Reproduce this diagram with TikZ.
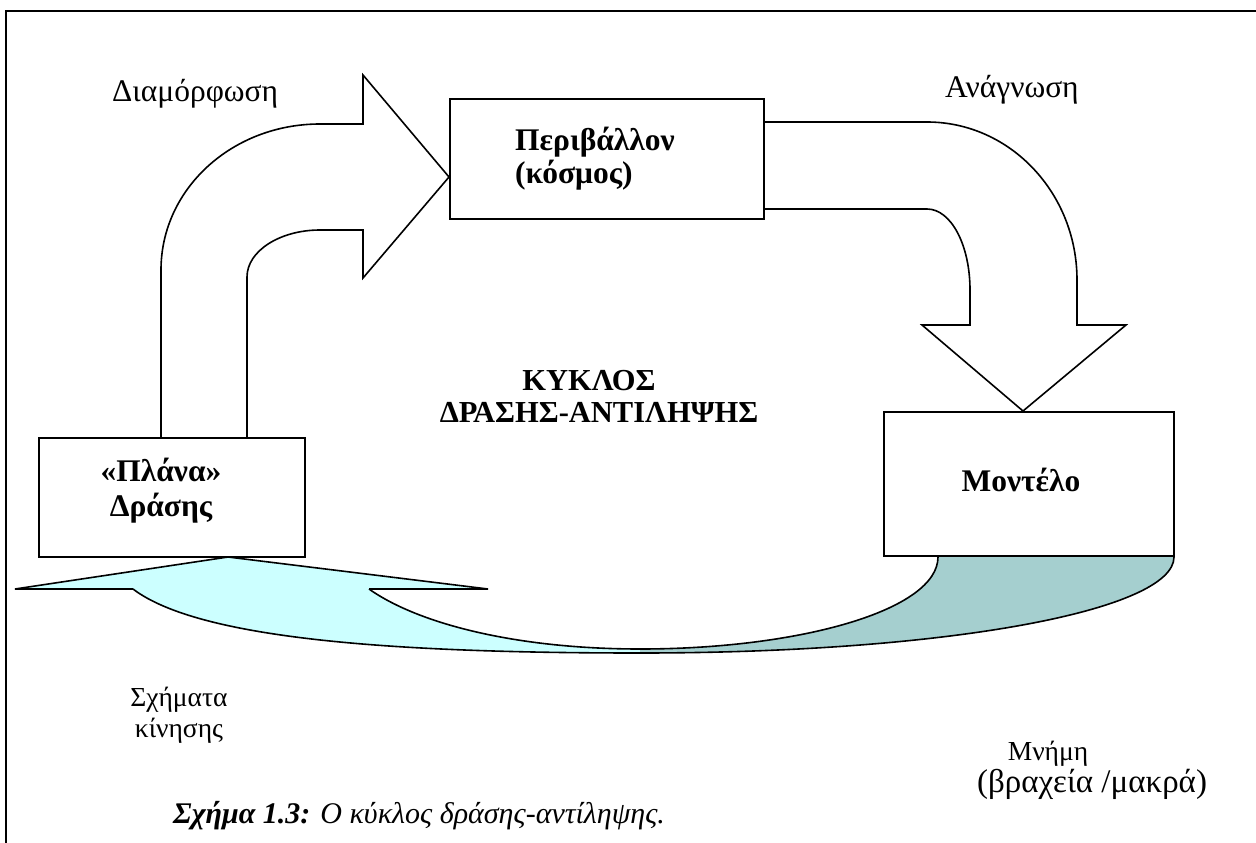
\documentclass[tikz,border=0pt]{standalone}
\usepackage{fontspec}
\setmainfont{Liberation Serif}
\definecolor{lightcyan}{HTML}{CCFFFF}
\definecolor{darkcyan}{HTML}{A5CFCF}
\begin{document}
\begin{tikzpicture}[x=1pt,y=-1pt,line join=miter,
  lbl/.style={font=\fontsize{31.5}{36}\selectfont, inner sep=0pt},
  slbl/.style={font=\fontsize{27.5}{32}\selectfont, inner sep=0pt},
  blbl/.style={font=\bfseries\fontsize{31.5}{36}\selectfont, inner sep=0pt},
  box/.style={draw, line width=1.6pt, fill=white, inner sep=0pt},
  outl/.style={line width=1.6pt}]
\useasboundingbox (0,0) rectangle (1256,843);
% frame
\draw[line width=2pt] (6,843) -- (6,11) -- (1256,11);

% top-left block arrow (Diamorfosi)
\draw[outl] (161,437) -- (161,270) .. controls (161,189) and (232,124) .. (320,124)
  -- (363,124) -- (363,75) -- (449,177) -- (363,278) -- (363,230) -- (320,230)
  .. controls (280,230) and (247,251) .. (247,277) -- (247,437);

% top-right block arrow (Anagnosi)
\draw[outl] (764,122) -- (927,122) .. controls (1010,122) and (1077,193) .. (1077,280)
  -- (1077,325) -- (1126,325) -- (1023,411) -- (922,325) -- (970,325) -- (970,290)
  .. controls (970,245) and (951,209) .. (927,209) -- (764,209);

% bottom curved arrow
\fill[lightcyan] (228,557) -- (488,589) -- (369,589)
  .. controls (420,625) and (520,649) .. (640,649) -- (640,653)
  .. controls (400,653) and (200,640) .. (133,589) -- (15,589) -- cycle;
\fill[darkcyan] (640,649) .. controls (800,649) and (938,610) .. (938,557)
  -- (1174,557) .. controls (1174,610) and (950,653) .. (640,653) -- cycle;
\draw[outl] (133,589) -- (15,589) -- (228,557) -- (488,589) -- (369,589);
\draw[outl] (369,589) .. controls (420,625) and (520,649) .. (640,649)
  .. controls (800,649) and (938,610) .. (938,557);
\draw[outl] (133,589) .. controls (200,640) and (400,653) .. (640,653)
  .. controls (950,653) and (1174,610) .. (1174,557);

% boxes
\node[box, minimum width=314pt, minimum height=120pt] (env) at (607,159) {};
\node[box, minimum width=266pt, minimum height=119pt] (plan) at (172,497.5) {};
\node[box, minimum width=290pt, minimum height=144pt] (model) at (1029,484) {};

% box texts
\node[blbl, anchor=base west] (env1) at (515,150) {Περιβάλλον};
\node[blbl, anchor=base west] (env2) at (515,183) {(κόσμος)};
\node[blbl, anchor=base] (plan1) at (161,481) {«Πλάνα»};
\node[blbl, anchor=base] (plan2) at (161,516) {Δράσης};
\node[blbl, anchor=base] (model1) at (1021,491) {Μοντέλο};

% centre title
\node[blbl, font=\bfseries\fontsize{30.5}{34}\selectfont, anchor=base] (cyc1) at (589,390) {ΚΥΚΛΟΣ};
\node[blbl, font=\bfseries\fontsize{30.5}{34}\selectfont, anchor=base] (cyc2) at (599,422) {ΔΡΑΣΗΣ-ΑΝΤΙΛΗΨΗΣ};

% labels
\node[lbl, anchor=base west] (diam) at (112,101) {Διαμόρφωση};
\node[lbl, anchor=base west] (anag) at (945,98) {Ανάγνωση};
\node[slbl, anchor=base] (sch1) at (179,706) {Σχήματα};
\node[slbl, anchor=base] (sch2) at (179,737) {κίνησης};
\node[slbl, anchor=base] (mn1) at (1048,760) {Μνήμη};
\node[font=\fontsize{33}{36}\selectfont, inner sep=0pt, anchor=base] (mn2) at (1092,792) {(βραχεία /μακρά)};

% caption
\node[anchor=base west, inner sep=0pt, font=\itshape\fontsize{30}{34}\selectfont] (cap) at (173,823)
  {\textbf{Σχήμα 1.3:} Ο κύκλος δράσης-αντίληψης.};
\end{tikzpicture}
\end{document}
